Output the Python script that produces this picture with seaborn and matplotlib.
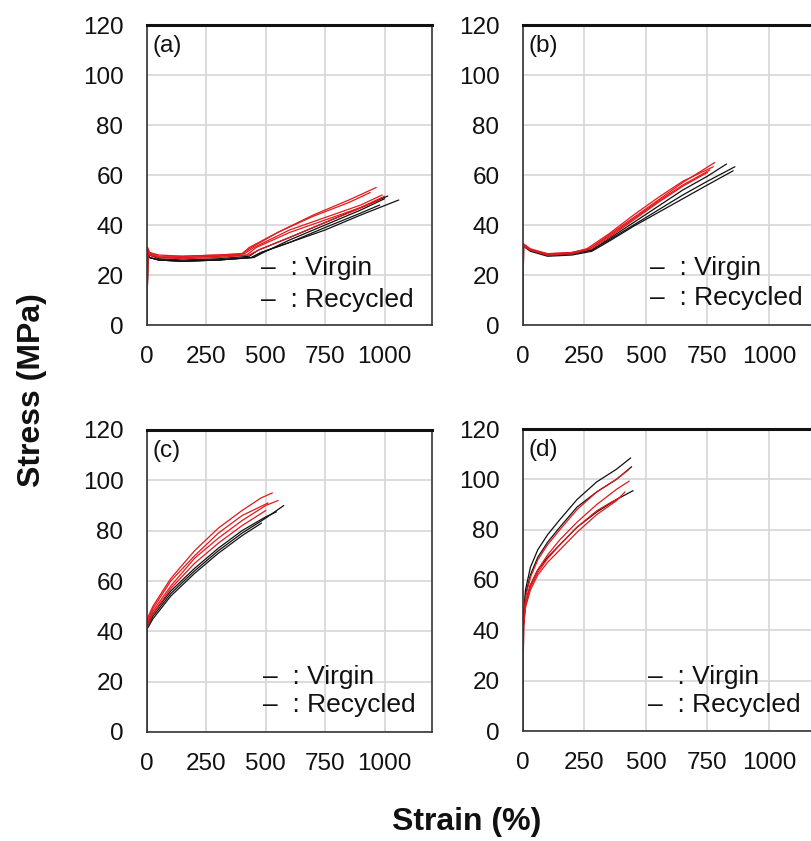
import matplotlib
matplotlib.use("Agg")
import matplotlib.pyplot as plt
import seaborn as sns
import pandas as pd

# ---------------- data ----------------
# Panel (a)
a_red_strain = [
    [0, 3, 10, 50, 150, 300, 400, 440, 550, 700, 850, 965],
    [0, 3, 10, 50, 150, 300, 420, 460, 600, 750, 900, 1000],
    [0, 3, 10, 50, 150, 300, 410, 450, 600, 750, 900, 990],
    [0, 3, 10, 50, 150, 300, 430, 470, 600, 750, 880, 980],
    [0, 3, 10, 50, 150, 300, 400, 430, 550, 700, 850, 940],
]
a_red_stress = [
    [0, 31, 29, 28, 27.5, 28, 28.5, 31, 37, 44, 50, 55],
    [0, 30, 28.5, 27, 27, 27.5, 28, 31, 37, 42, 47, 51.5],
    [0, 30, 28, 27, 27, 27.5, 28.5, 31, 38, 43, 48, 52],
    [0, 29, 28, 27, 26.5, 27, 28, 30, 35, 41, 46, 50],
    [0, 30.5, 29, 27.5, 27.5, 28, 28.5, 31, 37, 43.5, 49, 53],
]
a_blk_strain = [
    [0, 3, 10, 50, 150, 300, 440, 480, 600, 750, 900, 1060],
    [0, 3, 10, 50, 150, 300, 430, 470, 600, 750, 900, 1014],
    [0, 3, 10, 50, 150, 300, 450, 490, 600, 750, 900, 1000],
    [0, 3, 10, 50, 150, 300, 440, 480, 600, 750, 880, 980],
]
a_blk_stress = [
    [0, 29, 27, 26, 25.5, 26, 27, 29, 33, 38, 44, 50],
    [0, 30, 28, 26.5, 26, 26.5, 27.5, 30, 35, 41, 47, 51.6],
    [0, 29, 27, 26, 25.5, 26, 27, 29, 34, 40, 46, 50.5],
    [0, 28.5, 27, 26, 25.5, 26, 27, 29, 33, 39, 44, 48],
]

# Panel (b)
b_red_strain = [
    [0, 2, 30, 100, 200, 270, 350, 450, 550, 650, 780],
    [0, 2, 30, 100, 200, 260, 350, 450, 550, 650, 774],
    [0, 2, 30, 100, 200, 270, 350, 450, 550, 650, 760],
    [0, 2, 30, 100, 200, 280, 350, 450, 550, 650, 750],
]
b_red_stress = [
    [0, 32.5, 30.5, 28.5, 29, 30.5, 36, 43, 50, 57, 65],
    [0, 32, 30, 28, 29, 30.5, 36.5, 44, 51, 57.5, 63.3],
    [0, 32, 30, 28.5, 29, 30.5, 35.5, 42.5, 49.5, 56, 62],
    [0, 31.5, 30, 28, 28.5, 30.5, 35, 42, 49, 55.5, 61],
]
b_blk_strain = [
    [0, 2, 30, 100, 200, 280, 350, 450, 550, 650, 750, 862],
    [0, 2, 30, 100, 200, 280, 350, 450, 550, 650, 750, 855],
    [0, 2, 30, 100, 200, 280, 350, 450, 550, 650, 750, 828],
]
b_blk_stress = [
    [0, 32, 30, 28, 28.5, 30, 34, 40, 46, 52, 57.5, 63.3],
    [0, 31.5, 29.5, 27.5, 28, 29.5, 33.5, 39.5, 45, 50.5, 56, 61.7],
    [0, 32, 30, 28, 28.5, 30, 34.5, 41, 47.5, 54, 59.5, 64.4],
]

# Panel (c)
c_red_strain = [
    [0, 1, 25, 100, 200, 300, 400, 480, 528],
    [0, 1, 25, 100, 200, 300, 400, 500, 552],
    [0, 1, 25, 100, 200, 300, 400, 510],
    [0, 1, 25, 100, 200, 300, 400, 500],
]
c_red_stress = [
    [0, 45, 50, 61, 72, 81, 88, 93, 95],
    [0, 43, 48, 58, 69, 77, 84, 90, 92],
    [0, 44, 49, 60, 70, 79, 86, 91],
    [0, 42, 47, 57, 67, 75, 82, 88],
]
c_blk_strain = [
    [0, 1, 25, 100, 200, 300, 400, 500, 576],
    [0, 1, 25, 100, 200, 300, 400, 500, 545],
    [0, 1, 25, 100, 200, 300, 400, 482],
]
c_blk_stress = [
    [0, 42, 46, 55, 64, 72, 79, 85, 90],
    [0, 43, 47, 56, 65, 73, 80, 85.5, 87.5],
    [0, 41, 45, 54, 63, 71, 78, 83],
]

# Panel (d)
d_red_strain = [
    [0, 2, 10, 30, 60, 100, 150, 220, 300, 380, 428],
    [0, 2, 10, 30, 60, 100, 150, 220, 300, 380, 432],
    [0, 2, 10, 30, 60, 100, 150, 220, 300, 380, 415],
    [0, 2, 10, 30, 60, 100, 150, 220, 300, 360, 400],
]
d_red_stress = [
    [0, 43, 53, 61, 68, 74, 80, 88, 95, 100, 103.7],
    [0, 42, 51, 58, 64, 70, 76, 83, 90, 96, 99.3],
    [0, 41, 49, 56, 62, 67, 72, 79, 86, 91.5, 95],
    [0, 42, 50, 57, 63, 68.5, 74, 81, 87.5, 91, 93],
]
d_blk_strain = [
    [0, 2, 10, 30, 60, 100, 150, 220, 300, 380, 438],
    [0, 2, 10, 30, 60, 100, 150, 220, 300, 380, 442],
    [0, 2, 10, 30, 60, 100, 150, 220, 300, 380, 448],
]
d_blk_stress = [
    [0, 45, 56, 65, 72, 78, 84, 92, 99, 104, 108.5],
    [0, 44, 54, 62, 69, 75, 81, 89, 95, 100, 105],
    [0, 42, 51, 58, 64, 69, 74, 81, 87, 92, 95.5],
]

panel_labels = ["(a)", "(b)", "(c)", "(d)"]
legend_labels = ["Virgin", "Recycled"]
x_ticks = [0, 250, 500, 750, 1000]
y_ticks = [0, 20, 40, 60, 80, 100, 120]

# ---------------- build table ----------------
rows = []
panels = {
    "(a)": (a_blk_strain, a_blk_stress, a_red_strain, a_red_stress),
    "(b)": (b_blk_strain, b_blk_stress, b_red_strain, b_red_stress),
    "(c)": (c_blk_strain, c_blk_stress, c_red_strain, c_red_stress),
    "(d)": (d_blk_strain, d_blk_stress, d_red_strain, d_red_stress),
}
for p, (bs, bst, rs, rst) in panels.items():
    for i, (xs, ys) in enumerate(zip(bs, bst)):
        for x, y in zip(xs, ys):
            rows.append((p, "Virgin", f"V{i}", x, y))
    for i, (xs, ys) in enumerate(zip(rs, rst)):
        for x, y in zip(xs, ys):
            rows.append((p, "Recycled", f"R{i}", x, y))
df = pd.DataFrame(rows, columns=["panel", "group", "specimen", "strain", "stress"])

# ---------------- figure ----------------
sns.set_theme(style="whitegrid")
plt.rcParams["font.family"] = ["Liberation Sans", "DejaVu Sans"]

W, H = 811, 841
fig = plt.figure(figsize=(W / 100, H / 100), dpi=100)

def box(l, t, r, b):
    return [l / W, 1 - b / H, (r - l) / W, (b - t) / H]

positions = {
    "(a)": box(147, 25, 432, 325),
    "(b)": box(523, 25, 818, 325),
    "(c)": box(147, 430, 432, 732),
    "(d)": box(523, 429, 818, 731),
}
legend_pos = {
    "(a)": (0.40, 0.19, 0.083),
    "(b)": (0.43, 0.19, 0.09),
    "(c)": (0.407, 0.182, 0.089),
    "(d)": (0.424, 0.179, 0.086),
}
palette = {"Virgin": "#111111", "Recycled": "#e3191c"}

for p in panel_labels:
    ax = fig.add_axes(positions[p])
    sub = df[df["panel"] == p]
    sns.lineplot(data=sub, x="strain", y="stress", hue="group", units="specimen",
                 estimator=None, sort=False, palette=palette, linewidth=0.9,
                 legend=False, ax=ax)
    ax.set_xlim(0, 1200)
    ax.set_ylim(0, 120)
    ax.set_xticks(x_ticks)
    ax.set_yticks(y_ticks)
    ax.set_xlabel("")
    ax.set_ylabel("")
    ax.grid(True, color="#d6d6d6", linewidth=1.2)
    ax.set_axisbelow(True)
    ax.tick_params(axis="both", length=0, labelsize=17.5, colors="#111111")
    ax.tick_params(axis="y", pad=17)
    ax.tick_params(axis="x", pad=15)
    for s in ["left", "right", "bottom"]:
        ax.spines[s].set_color("#333333")
        ax.spines[s].set_linewidth(1.2)
    ax.spines["top"].set_color("#111111")
    ax.spines["top"].set_linewidth(2.2)
    ax.text(0.02, 0.93, p, transform=ax.transAxes, fontsize=17.5, va="center", ha="left",
            color="#111111")
    lx, ly1, ly2 = legend_pos[p]
    ax.text(lx, ly1, "–  : " + legend_labels[0], transform=ax.transAxes, fontsize=19,
            va="center", ha="left", color="#111111")
    ax.text(lx, ly2, "–  : " + legend_labels[1], transform=ax.transAxes, fontsize=19,
            va="center", ha="left", color="#111111")

fig.text(32 / W, 1 - 390 / H, "Stress (MPa)", rotation=90, fontsize=23, fontweight="bold",
         ha="center", va="center", color="#111111")
fig.text(467 / W, 1 - 822 / H, "Strain (%)", fontsize=23, fontweight="bold",
         ha="center", va="center", color="#111111")

fig.savefig("out.png", dpi=100)
